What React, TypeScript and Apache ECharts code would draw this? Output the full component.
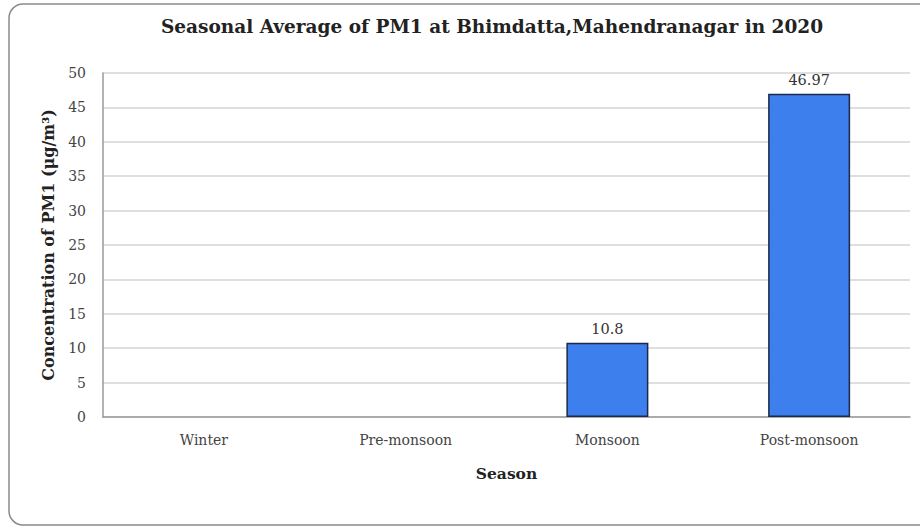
import React, { useEffect, useRef } from "react";
import * as echarts from "echarts";

const categories = ["Winter", "Pre-monsoon", "Monsoon", "Post-monsoon"];
const pm1Values: (number | null)[] = [null, null, 10.8, 46.97];
const yTicks = { min: 0, max: 50, interval: 5 };

const FONT = "'DejaVu Serif', 'Liberation Serif', serif";

export default function App() {
  const ref = useRef<HTMLDivElement>(null);
  useEffect(() => {
    if (!ref.current) return;
    const chart = echarts.init(ref.current, null, { renderer: "svg" });
    chart.setOption({
      animation: false,
      backgroundColor: "#ffffff",
      title: {
        text: "Seasonal Average of PM1 at Bhimdatta,Mahendranagar in 2020",
        left: 487,
        textAlign: "center",
        top: 12,
        textStyle: { fontFamily: FONT, fontSize: 18.5, fontWeight: "bold", color: "#222" },
      },
      graphic: [
        {
          type: "rect",
          shape: { x: 9, y: 4, width: 930, height: 521, r: 14 },
          style: { fill: "none", stroke: "#8a8a8a", lineWidth: 1.5 },
          silent: true,
        },
      ],
      grid: { left: 103, right: 10, top: 73, bottom: 110 },
      xAxis: {
        type: "category",
        data: categories,
        name: "Season",
        nameLocation: "middle",
        nameGap: 48,
        nameTextStyle: { fontFamily: FONT, fontSize: 15.5, fontWeight: "bold", color: "#222" },
        axisLine: { show: true, lineStyle: { color: "#9a9a9a", width: 1.5 } },
        axisTick: { show: false },
        axisLabel: { fontFamily: FONT, fontSize: 14, color: "#444", margin: 16 },
      },
      yAxis: {
        type: "value",
        min: yTicks.min,
        max: yTicks.max,
        interval: yTicks.interval,
        name: "Concentration of PM1 (μg/m³)",
        nameLocation: "middle",
        nameGap: 47,
        nameTextStyle: { fontFamily: FONT, fontSize: 16, fontWeight: "bold", color: "#222" },
        axisLine: { show: true, lineStyle: { color: "#9a9a9a", width: 1.5 } },
        axisTick: { show: false },
        axisLabel: { fontFamily: FONT, fontSize: 14, color: "#444", margin: 17 },
        splitLine: { show: true, lineStyle: { color: "#d4d4d4", width: 1.5 } },
      },
      series: [
        {
          type: "bar",
          data: pm1Values,
          barWidth: 82,
          itemStyle: { color: "#3d7fec", borderColor: "#1b2a4a", borderWidth: 1.5 },
          label: {
            show: true,
            position: "top",
            distance: 6,
            fontFamily: FONT,
            fontSize: 14.5,
            color: "#333",
          },
        },
      ],
    });
    return () => chart.dispose();
  }, []);
  return <div ref={ref} style={{ width: 920, height: 527, position: "absolute", left: 0, top: 0 }} />;
}
